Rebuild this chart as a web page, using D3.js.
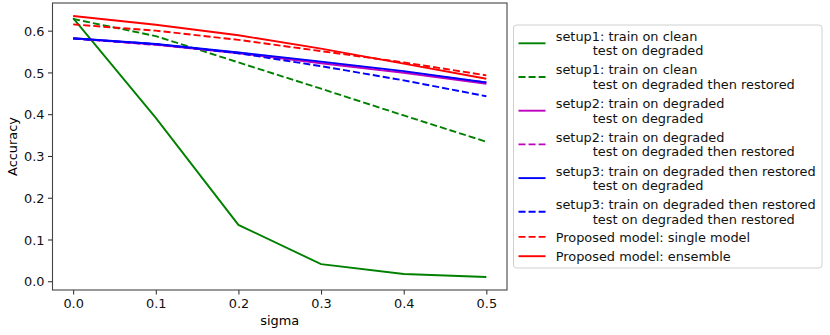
<!DOCTYPE html>
<html>
<head>
<meta charset="utf-8">
<script src="https://cdn.jsdelivr.net/npm/d3@7"></script>
<style>
  body { margin: 0; background: #fff; }
  svg { display: block; font-family: "DejaVu Sans", sans-serif; }
</style>
</head>
<body>
<svg id="chart" width="830" height="335"></svg>
<script>
// sigma values on the x axis
const sigmas = [0.0, 0.1, 0.2, 0.3, 0.4, 0.5]

// accuracy for each setup
const setup1Degraded = [0.630, 0.391, 0.135, 0.041, 0.0175, 0.0103]
const setup1Restored = [0.628, 0.587, 0.524, 0.461, 0.397, 0.334]
const setup2Degraded = [0.582, 0.567, 0.546, 0.522, 0.499, 0.473]
const setup2Restored = [0.581, 0.566, 0.547, 0.524, 0.501, 0.476]
const setup3Degraded = [0.582, 0.568, 0.548, 0.526, 0.503, 0.476]
const setup3Restored = [0.581, 0.568, 0.546, 0.515, 0.481, 0.443]
const proposedSingle = [0.615, 0.600, 0.578, 0.551, 0.524, 0.493]
const proposedEnsemble = [0.635, 0.614, 0.589, 0.557, 0.521, 0.485]

const xTicks = [0.0, 0.1, 0.2, 0.3, 0.4, 0.5]
const yTicks = [0.0, 0.1, 0.2, 0.3, 0.4, 0.5, 0.6]

const series = [
  { lines: ['setup1: train on clean', 'test on degraded'], values: setup1Degraded, color: '#008000', dashed: false },
  { lines: ['setup1: train on clean', 'test on degraded then restored'], values: setup1Restored, color: '#008000', dashed: true },
  { lines: ['setup2: train on degraded', 'test on degraded'], values: setup2Degraded, color: '#bf00bf', dashed: false },
  { lines: ['setup2: train on degraded', 'test on degraded then restored'], values: setup2Restored, color: '#bf00bf', dashed: true },
  { lines: ['setup3: train on degraded then restored', 'test on degraded'], values: setup3Degraded, color: '#0000ff', dashed: false },
  { lines: ['setup3: train on degraded then restored', 'test on degraded then restored'], values: setup3Restored, color: '#0000ff', dashed: true },
  { lines: ['Proposed model: single model'], values: proposedSingle, color: '#ff0000', dashed: true },
  { lines: ['Proposed model: ensemble'], values: proposedEnsemble, color: '#ff0000', dashed: false }
]

const fontSize = 12.9
const lineW = 1.9
const dash = [3.7 * lineW, 1.6 * lineW].join(',')

const plot = { left: 52.5, right: 507, top: 3, bottom: 290 }

const svg = d3.select('#chart')

// matplotlib style 5% margins
const xMin = d3.min(sigmas), xMax = d3.max(sigmas)
const xPad = (xMax - xMin) * 0.05
const x = d3.scaleLinear().domain([xMin - xPad, xMax + xPad]).range([plot.left, plot.right])

const allVals = series.flatMap(s => s.values)
const yMin = d3.min(allVals), yMax = d3.max(allVals)
const yPad = (yMax - yMin) * 0.05
const y = d3.scaleLinear().domain([yMin - yPad, yMax + yPad]).range([plot.bottom, plot.top])

// lines
const line = d3.line()
  .x((d, i) => x(sigmas[i]))
  .y(d => y(d))

svg.append('g').selectAll('path')
  .data(series)
  .enter()
  .append('path')
  .attr('d', d => line(d.values))
  .attr('fill', 'none')
  .attr('stroke', d => d.color)
  .attr('stroke-width', lineW)
  .attr('stroke-dasharray', d => d.dashed ? dash : null)

// axes
const xAxis = svg.append('g')
  .attr('transform', 'translate(0,' + plot.bottom + ')')
  .call(d3.axisBottom(x).tickValues(xTicks).tickFormat(d3.format('.1f')).tickSize(4.5).tickPadding(4))
const yAxis = svg.append('g')
  .attr('transform', 'translate(' + plot.left + ',0)')
  .call(d3.axisLeft(y).tickValues(yTicks).tickFormat(d3.format('.1f')).tickSize(4.5).tickPadding(3.5))

for (const ax of [xAxis, yAxis]) {
  ax.select('.domain').remove()
  ax.selectAll('line').attr('stroke', '#222').attr('stroke-width', 1)
  ax.selectAll('text')
    .attr('fill', '#111')
    .style('font-family', '"DejaVu Sans", sans-serif')
    .style('font-size', fontSize + 'px')
}
yAxis.selectAll('text').attr('dy', '0.36em')

// frame
svg.append('rect')
  .attr('x', plot.left)
  .attr('y', plot.top)
  .attr('width', plot.right - plot.left)
  .attr('height', plot.bottom - plot.top)
  .attr('fill', 'none')
  .attr('stroke', '#444')
  .attr('stroke-width', 1.1)

// axis labels
svg.append('text')
  .attr('x', (plot.left + plot.right) / 2)
  .attr('y', 325)
  .attr('text-anchor', 'middle')
  .style('font-size', fontSize + 'px')
  .text('sigma')

svg.append('text')
  .attr('transform', 'translate(17,' + (plot.top + plot.bottom) / 2 + ') rotate(-90)')
  .attr('text-anchor', 'middle')
  .style('font-size', fontSize + 'px')
  .text('Accuracy')

// legend
const legend = svg.append('g')
legend.append('rect')
  .attr('x', 513.5)
  .attr('y', 25)
  .attr('width', 308.5)
  .attr('height', 243)
  .attr('rx', 3)
  .attr('fill', 'rgba(255,255,255,0.8)')
  .attr('stroke', '#d0d0d0')
  .attr('stroke-width', 1)

const lineH = 14.4
const gap = 4.9
let cy = 43.3
series.forEach((s, i) => {
  if (i > 0) {
    cy += (series[i - 1].lines.length + s.lines.length) / 2 * lineH + gap
    if (series[i - 1].lines.length !== s.lines.length) cy -= 1.4
  }
  legend.append('line')
    .attr('x1', 518.5).attr('x2', 545.5)
    .attr('y1', cy).attr('y2', cy)
    .attr('stroke', s.color)
    .attr('stroke-width', lineW)
    .attr('stroke-dasharray', s.dashed ? dash : null)
  const top = cy - s.lines.length * lineH / 2
  s.lines.forEach((t, j) => {
    legend.append('text')
      .attr('x', j === 0 ? 555.7 : 592.7)
      .attr('y', top + lineH * (j + 0.5))
      .attr('dy', '0.36em')
      .style('font-size', fontSize + 'px')
      .attr('fill', '#111')
      .text(t)
  })
})
</script>
</body>
</html>
